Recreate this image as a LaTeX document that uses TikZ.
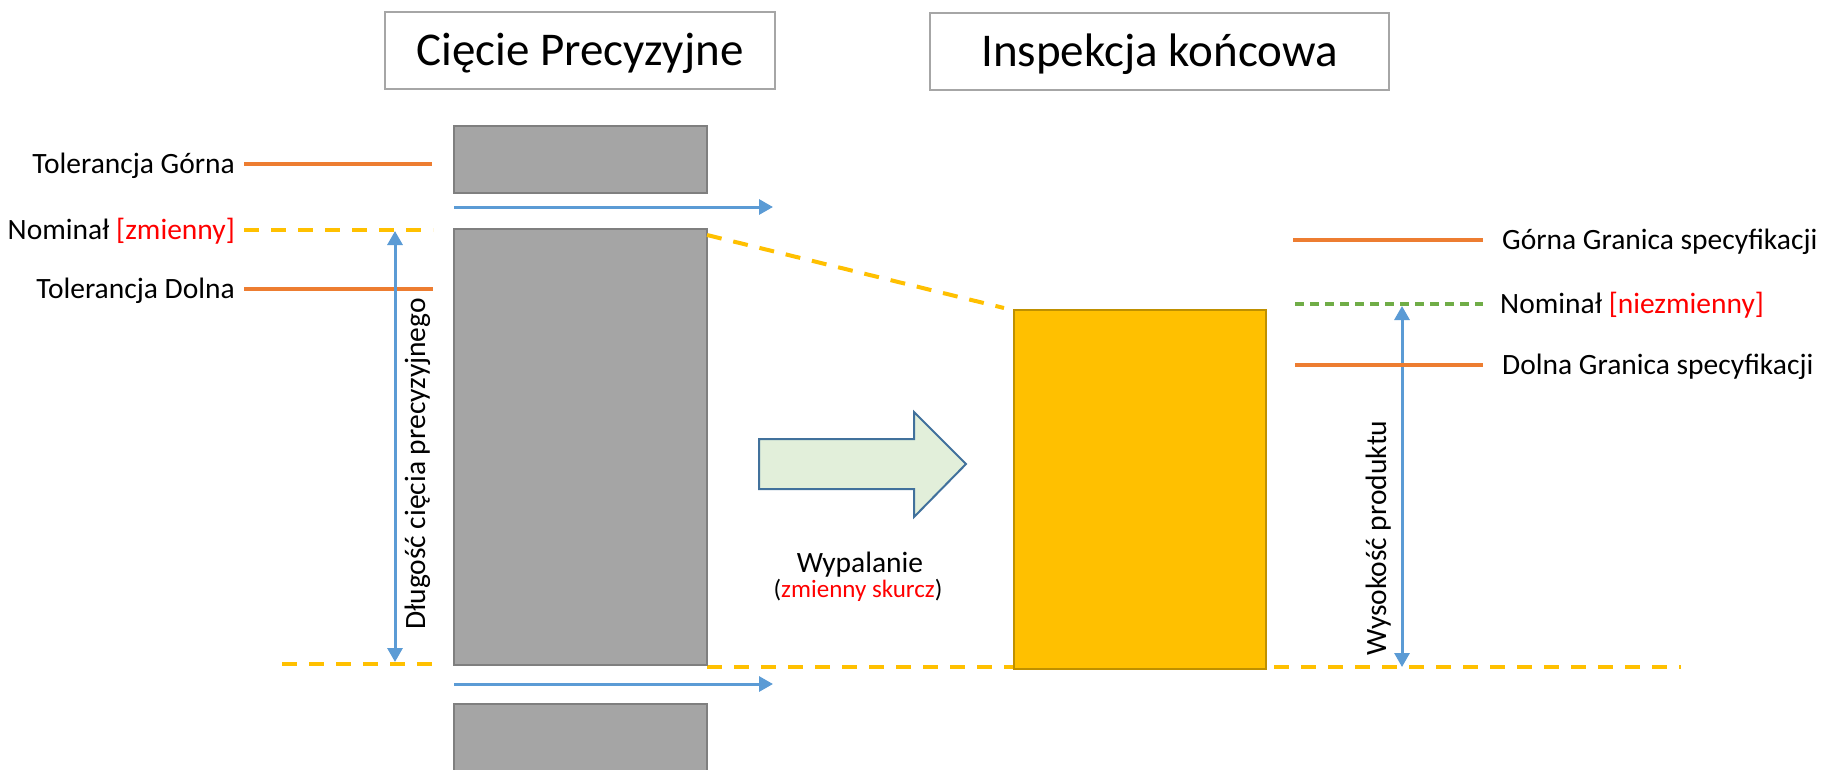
\documentclass[tikz,border=0pt]{standalone}
\usepackage{fontspec}
\setmainfont{Carlito}
\usetikzlibrary{arrows.meta}
\definecolor{gfill}{HTML}{A5A5A5}
\definecolor{gdraw}{HTML}{7F7F7F}
\definecolor{orng}{HTML}{ED7D31}
\definecolor{ylw}{HTML}{FFC000}
\definecolor{ydraw}{HTML}{BF9000}
\definecolor{blu}{HTML}{5B9BD5}
\definecolor{grn}{HTML}{70AD47}
\definecolor{arrfill}{HTML}{E2EFDA}
\definecolor{arrdraw}{HTML}{41719C}
\definecolor{boxdraw}{HTML}{A6A6A6}
\tikzset{
  titlebox/.style={draw=boxdraw, line width=2pt, fill=white, inner sep=0pt,
    font=\fontsize{47}{56}\selectfont, text height=30pt, text depth=0pt},
  part/.style={draw=gdraw, fill=gfill, line width=2pt, inner sep=0pt},
  lbl/.style={font=\fontsize{29.5}{35}\selectfont, inner sep=0pt},
  small/.style={font=\fontsize{25}{30}\selectfont, inner sep=0pt},
  tol/.style={draw=orng, line width=4pt},
  ydash/.style={draw=ylw, line width=4pt, dash pattern=on 15pt off 12pt},
  gdash/.style={draw=grn, line width=3.5pt, dash pattern=on 9pt off 6pt},
  flow/.style={draw=blu, line width=3pt, -{Triangle[length=14pt,width=15pt]}},
  dim/.style={draw=blu, line width=3pt, {Triangle[length=14pt,width=15pt]}-{Triangle[length=14pt,width=15pt]}},
}
\begin{document}
\begin{tikzpicture}[x=1pt,y=-1pt]
\clip (0,0) rectangle (1822,769);
\fill[white] (0,0) rectangle (1822,769);

% title boxes
\node[titlebox, minimum width=390pt, minimum height=77pt] (t1) at (580,50.5) {Cięcie Precyzyjne};
\node[titlebox, minimum width=459pt, minimum height=77pt] (t2) at (1159.5,51) {Inspekcja końcowa};

% coordinates
\coordinate (ygl) at (244,164); \coordinate (ygr) at (432,164);
\coordinate (ynl) at (244,230); \coordinate (ynr) at (433,230);
\coordinate (ydl) at (244,289); \coordinate (ydr) at (433,289);
\coordinate (bl1) at (282,664); \coordinate (bl2) at (443,664);
\coordinate (br1) at (707,667); \coordinate (br2) at (1681,667);
\coordinate (fa1) at (454,207); \coordinate (fa2) at (773,207);
\coordinate (fb1) at (454,684); \coordinate (fb2) at (773,684);
\coordinate (d1) at (395,231); \coordinate (d2) at (395,662);
\coordinate (w1) at (1402,306); \coordinate (w2) at (1402,667);
\coordinate (sgl) at (1293,240); \coordinate (sgr) at (1483,240);
\coordinate (snl) at (1295,304); \coordinate (snr) at (1483,304);
\coordinate (sdl) at (1295,365); \coordinate (sdr) at (1483,365);
\coordinate (diagA) at (707,235); \coordinate (diagB) at (1004,308);

% bottom reference line (behind product)
\draw[ydash] (br1) -- (br2);

% parts
\node[part, minimum width=253pt, minimum height=67pt] (g1) at (580.5,159.5) {};
\node[part, minimum width=253pt, minimum height=436pt] (g2) at (580.5,447) {};
\node[part, minimum width=253pt, minimum height=90pt] (g3) at (580.5,749) {};

% product
\node[draw=ydraw, fill=ylw, line width=2pt, inner sep=0pt, minimum width=252pt, minimum height=359pt] (prod) at (1140,489.5) {};

% left labels
\node[lbl, anchor=base east] (lg) at (235,173.5) {Tolerancja Górna};
\node[lbl, anchor=base east] (ln) at (235,239.5) {Nominał \textcolor{red}{[zmienny]}};
\node[lbl, anchor=base east] (ld) at (235,298.5) {Tolerancja Dolna};
\draw[tol] (ygl) -- (ygr);
\draw[tol] (ydl) -- (ydr);
\draw[ydash] (ynl) -- (ynr);
\draw[ydash] (bl1) -- (bl2);
\draw[ydash] (diagA) -- (diagB);

% flow arrows
\draw[flow] (fa1) -- (fa2);
\draw[flow] (fb1) -- (fb2);

% dimension arrows
\draw[dim] (d2) -- (d1);
\node[lbl, rotate=90, anchor=base] (dl) at (425,464) {Długość cięcia precyzyjnego};
\draw[dim] (w2) -- (w1);
\node[lbl, rotate=90, anchor=base] (wl) at (1386,538) {Wysokość produktu};

% right labels
\draw[tol] (sgl) -- (sgr);
\draw[gdash] (snl) -- (snr);
\draw[tol] (sdl) -- (sdr);
\node[lbl, anchor=base west] (rg) at (1502,249.5) {Górna Granica specyfikacji};
\node[lbl, anchor=base west] (rn) at (1500,313.5) {Nominał \textcolor{red}{[niezmienny]}};
\node[lbl, anchor=base west] (rd) at (1502,374.5) {Dolna Granica specyfikacji};

% block arrow
\draw[draw=arrdraw, fill=arrfill, line width=2pt, line join=miter]
  (759,439) -- (914,439) -- (914,412) -- (966,464) -- (914,517) -- (914,489) -- (759,489) -- cycle;

% process label
\node[lbl, anchor=base] (burn) at (860,572) {Wypalanie};
\node[small, anchor=base] (burnnote) at (858,597) {(\textcolor{red}{zmienny skurcz})};
\end{tikzpicture}
\end{document}
